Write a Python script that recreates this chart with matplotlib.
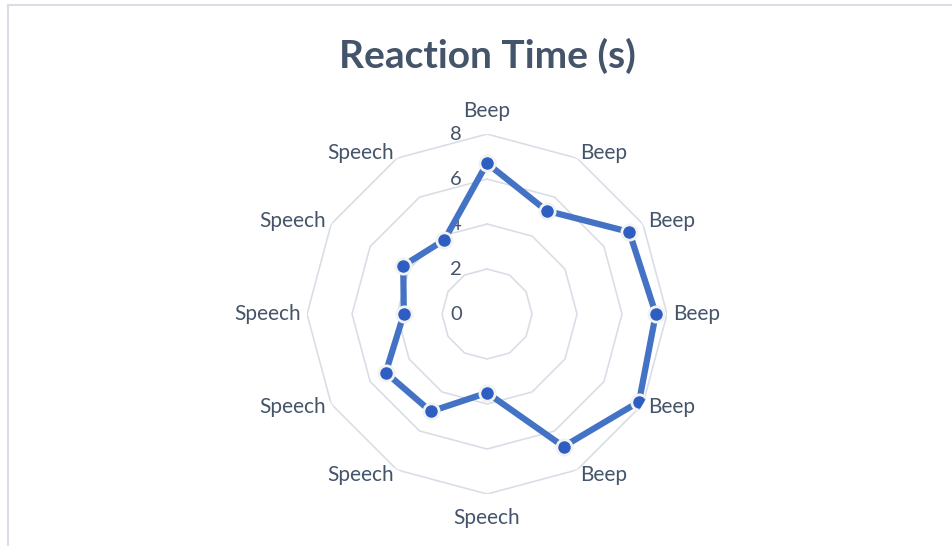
import numpy as np
import matplotlib
matplotlib.use("Agg")
import matplotlib.pyplot as plt
from matplotlib.lines import Line2D

categories = ["Beep", "Beep", "Beep", "Beep", "Beep", "Beep",
              "Speech", "Speech", "Speech", "Speech", "Speech", "Speech"]
reaction = [6.7, 5.3, 7.3, 7.5, 7.8, 6.8, 3.5, 5.0, 5.2, 3.7, 4.3, 3.8]
rings = [2, 4, 6, 8]
ring_labels = ["0", "2", "4", "6", "8"]

text_col = "#44546A"
grid_col = "#D9DEE6"
line_col = "#4472C4"

plt.rcParams['font.family'] = ['Lato', 'DejaVu Sans']

fig = plt.figure(figsize=(9.52, 5.46), dpi=100)
ax = fig.add_axes([0.3225, 0.0952, 0.3782, 0.6593], projection='polar')
ax.set_theta_zero_location('N')
ax.set_theta_direction(-1)
ax.set_ylim(0, 8)
ax.grid(False)
ax.spines['polar'].set_visible(False)
ax.set_xticks([])
ax.set_yticks([])
ax.patch.set_alpha(0)

n = len(categories)
theta = np.arange(n) * 2 * np.pi / n
closed = np.append(theta, theta[0])

# polygon gridlines like Excel radar
for r in rings:
    ax.plot(closed, [r] * (n + 1), color=grid_col, lw=1.2, zorder=1)

# radial value labels along the top spoke
for i, lab in enumerate(ring_labels):
    ax.annotate(lab, xy=(0, i * 2), xytext=(-31, 0), textcoords='offset pixels',
                ha='center', va='center', fontsize=14.5, color=text_col)

# category labels
for t, lab in zip(theta, categories):
    s, c = np.sin(t), np.cos(t)
    if abs(s) < 1e-6:
        dy = 23 if c > 0 else -24
        ax.annotate(lab, xy=(t, 8), xytext=(0, dy), textcoords='offset pixels',
                    ha='center', va='center', fontsize=15, color=text_col)
    else:
        ax.annotate(lab, xy=(t, 8), xytext=(6 * s, 6 * c), textcoords='offset pixels',
                    ha='left' if s > 0 else 'right', va='center',
                    fontsize=15, color=text_col)

vals = np.append(reaction, reaction[0])
ax.plot(closed, vals, color=line_col, lw=4.5, zorder=3, solid_joinstyle='round')
ax.plot(theta, reaction, 'o', ms=11, color='#2E5EC2', mec='#F2F2F2', mew=2, zorder=4)

fig.text(0.5115, 0.897, "Reaction Time (s)", ha='center', va='center',
         fontsize=28, fontweight='bold', color=text_col)

# chart area border (top and left visible)
fig.add_artist(Line2D([8 / 952, 1], [1 - 5 / 546, 1 - 5 / 546], color=grid_col, lw=1.5,
                      transform=fig.transFigure))
fig.add_artist(Line2D([8 / 952, 8 / 952], [0, 1 - 5 / 546], color=grid_col, lw=1.5,
                      transform=fig.transFigure))

fig.savefig("out.png", dpi=100)
